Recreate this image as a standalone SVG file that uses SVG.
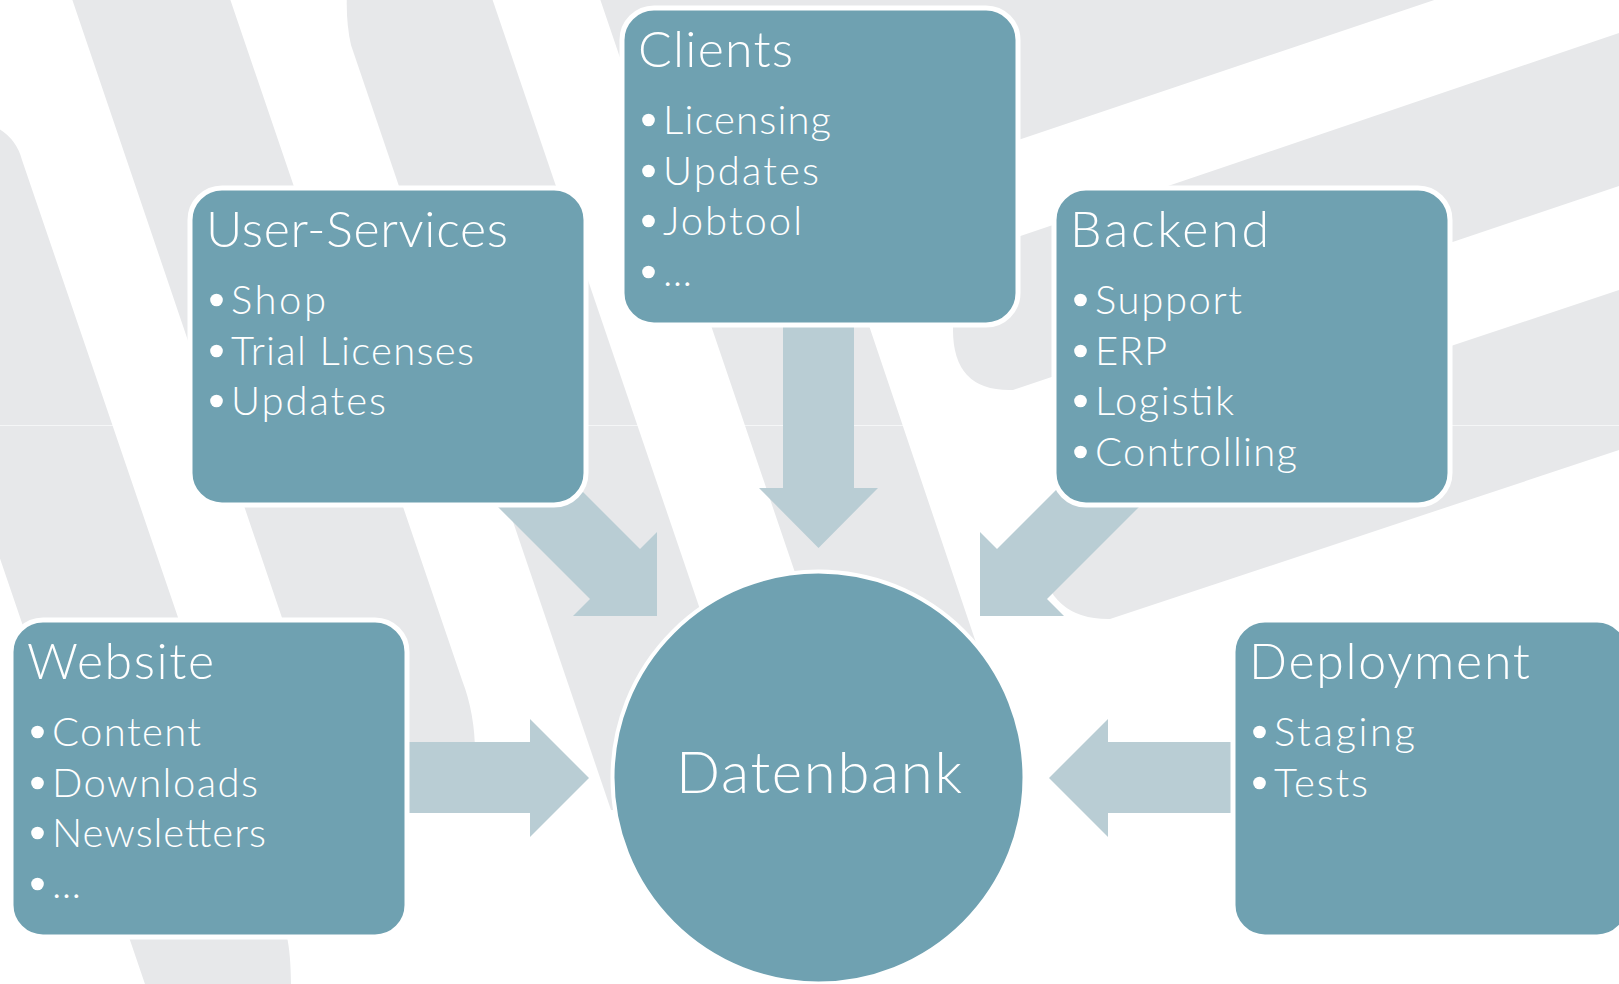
<svg xmlns="http://www.w3.org/2000/svg" width="1619" height="984" viewBox="0 0 1619 984">
<style>
.bg{fill:#e7e8ea}
.arrow{fill:#b9cdd4}
.box{fill:#6fa1b1;stroke:#ffffff;stroke-width:5}
.t{font-family:Lato,"Noto Sans","Liberation Sans",sans-serif;font-weight:300;fill:#ffffff}
.title{font-size:50px}
.item{font-size:40px}
.big{font-size:58px}
.dot{fill:#ffffff}
</style>
<rect width="1619" height="984" fill="#ffffff"/>
<g id="background">
<path class="bg" d="M -150,118 L -40,118 Q 12,122 22,160 L 287,937 Q 291,955 291,990 L 147,990 Z"/>
<path class="bg" d="M 69,-10 L 227,-10 L 462,680 Q 476,716 475,760 L 475,790 L 400,790 L 354,830 Z"/>
<path class="bg" d="M 350,-40 L 479,-40 L 770,815 L 611,810 L 351,45 Q 343,10 350,-40 Z"/>
<path class="bg" d="M 597,-10 L 1464,-10 L 828,204 L 997,705 L 840,705 Z"/>
<path class="bg" d="M 953,259 L 1619,33 L 1619,186 L 1013,390 Q 953,392 953,330 Z"/>
<path class="bg" d="M 1130,453 L 1619,290 L 1619,450 L 1110,619 Q 1050,620 1040,560 L 1068,500 Z"/>
<line x1="0" y1="425.5" x2="1619" y2="425.5" stroke="#ffffff" stroke-opacity="0.6" stroke-width="1"/>
</g>
<g id="connectors">
<polygon class="arrow" points="400,742 530,742 530,719 589,778 530,837 530,813 400,813"/>
<polygon class="arrow" points="1240,742 1108,742 1108,719 1049,778 1108,837 1108,813 1240,813"/>
<polygon class="arrow" points="783,320 854,320 854,488 878,488 818.5,548 759,488 783,488"/>
<polygon class="arrow" points="510,419 640,549 657,532 657,616 573,616 590,599 460,469"/>
<polygon class="arrow" points="1127,419 997,549 980,532 980,616 1064,616 1047,599 1177,469"/>
</g>
<g id="node-clients">
<rect class="box" x="622" y="8" width="396" height="317" rx="32"/>
<text class="t title" x="638" y="67" textLength="155">Clients</text>
<circle class="dot" cx="648.5" cy="120" r="6.3"/>
<text class="t item" x="663" y="134" textLength="168">Licensing</text>
<circle class="dot" cx="648.5" cy="171" r="6.3"/>
<text class="t item" x="663" y="185" textLength="156">Updates</text>
<circle class="dot" cx="648.5" cy="221" r="6.3"/>
<text class="t item" x="663" y="235" textLength="139">Jobtool</text>
<circle class="dot" cx="648.5" cy="272" r="6.3"/>
<text class="t item" x="663" y="286" textLength="38">…</text>
</g>
<g id="node-user-services">
<rect class="box" x="190" y="188" width="396" height="317" rx="32"/>
<text class="t title" x="206" y="247" textLength="302">User-Services</text>
<circle class="dot" cx="216.5" cy="300" r="6.3"/>
<text class="t item" x="231" y="314" textLength="95">Shop</text>
<circle class="dot" cx="216.5" cy="351" r="6.3"/>
<text class="t item" x="231" y="365" textLength="243">Trial Licenses</text>
<circle class="dot" cx="216.5" cy="401" r="6.3"/>
<text class="t item" x="231" y="415" textLength="155">Updates</text>
</g>
<g id="node-backend">
<rect class="box" x="1054" y="188" width="396" height="317" rx="32"/>
<text class="t title" x="1070" y="247" textLength="199">Backend</text>
<circle class="dot" cx="1080.5" cy="300" r="6.3"/>
<text class="t item" x="1095" y="314" textLength="147">Support</text>
<circle class="dot" cx="1080.5" cy="351" r="6.3"/>
<text class="t item" x="1095" y="365" textLength="72">ERP</text>
<circle class="dot" cx="1080.5" cy="401" r="6.3"/>
<text class="t item" x="1095" y="415" textLength="139">Logistik</text>
<circle class="dot" cx="1080.5" cy="452" r="6.3"/>
<text class="t item" x="1095" y="466" textLength="202">Controlling</text>
</g>
<g id="node-website">
<rect class="box" x="11" y="620" width="396" height="317" rx="32"/>
<text class="t title" x="27" y="679" textLength="187">Website</text>
<circle class="dot" cx="37.5" cy="732" r="6.3"/>
<text class="t item" x="52" y="746" textLength="149">Content</text>
<circle class="dot" cx="37.5" cy="783" r="6.3"/>
<text class="t item" x="52" y="797" textLength="206">Downloads</text>
<circle class="dot" cx="37.5" cy="833" r="6.3"/>
<text class="t item" x="52" y="847" textLength="214">Newsletters</text>
<circle class="dot" cx="37.5" cy="884" r="6.3"/>
<text class="t item" x="52" y="898" textLength="38">…</text>
</g>
<g id="node-deployment">
<rect class="box" x="1233" y="620" width="396" height="317" rx="32"/>
<text class="t title" x="1249" y="679" textLength="281">Deployment</text>
<circle class="dot" cx="1259.5" cy="732" r="6.3"/>
<text class="t item" x="1274" y="746" textLength="141">Staging</text>
<circle class="dot" cx="1259.5" cy="783" r="6.3"/>
<text class="t item" x="1274" y="797" textLength="94">Tests</text>
</g>
<g id="node-datenbank">
<circle class="box" cx="818.5" cy="777.5" r="206" style="stroke-width:4"/>
<text class="t big" x="819" y="793" text-anchor="middle" textLength="286">Datenbank</text>
</g>
</svg>
